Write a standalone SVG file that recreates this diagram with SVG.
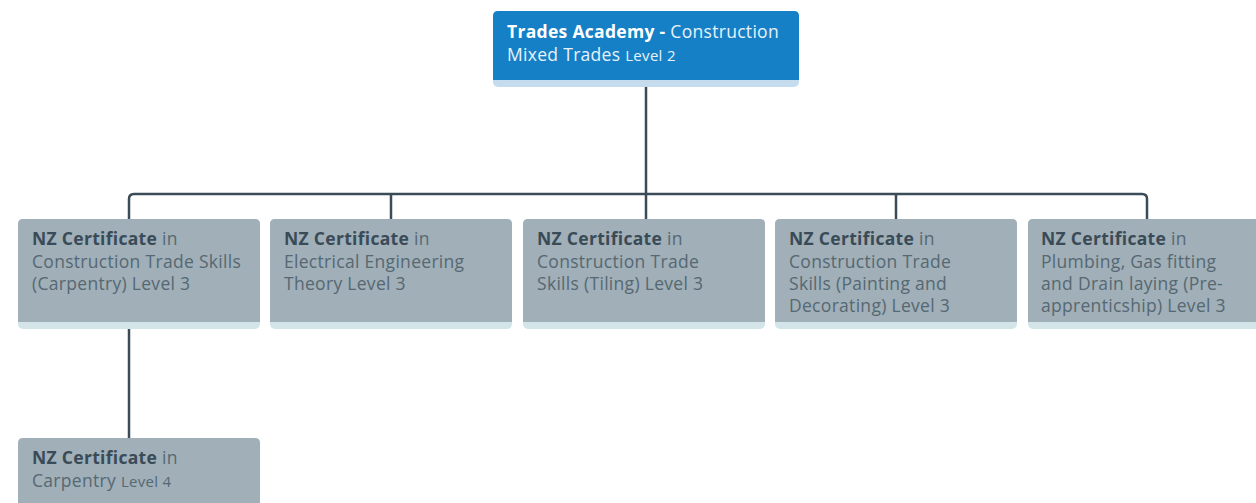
<svg xmlns="http://www.w3.org/2000/svg" width="1256" height="503" viewBox="0 0 1256 503">
<style>
.t{font-family:"Open Sans",Lato,"Liberation Sans",sans-serif;font-size:17.5px;letter-spacing:0.3px;fill:#566872}
.b{font-weight:bold;fill:#3a4b57}
.s{font-size:15px}
.tw{fill:#e8f2fa}
.tb{fill:#ffffff;font-weight:bold}
.box{fill:#a0afb8}
.strip{fill:#d3e5e8}
.con{fill:none;stroke:#3b4b57;stroke-width:2.5}
</style>
<rect width="1256" height="503" fill="#ffffff"/>
<g id="connectors">
<path class="con" d="M646 86 V194"/>
<path class="con" d="M129 219 V199 Q129 194 134 194 H1142 Q1147 194 1147 199 V219"/>
<path class="con" d="M391 194 V219 M646 194 V219 M896 194 V219"/>
<path class="con" d="M129 329 V438"/>
</g>
<g id="root">
<rect x="493" y="11" width="306" height="76" rx="5" fill="#c5dcef"/>
<path d="M498 11 H794 Q799 11 799 16 V80 H493 V16 Q493 11 498 11 Z" fill="#1580c6"/>
<text class="t tw" x="507" y="38"><tspan class="tb">Trades Academy -</tspan> Construction</text>
<text class="t tw" x="507" y="61">Mixed Trades <tspan class="s">Level 2</tspan></text>
</g>
<g id="n1">
<rect x="18" y="219" width="242" height="110" rx="5" class="strip"/>
<path d="M23 219 H255 Q260 219 260 224 V322 H18 V224 Q18 219 23 219 Z" class="box"/>
<text class="t" x="32" y="245"><tspan class="b">NZ Certificate</tspan> in</text>
<text class="t" x="32" y="268">Construction Trade Skills</text>
<text class="t" x="32" y="290">(Carpentry) Level 3</text>
</g>
<g id="n2">
<rect x="270" y="219" width="242" height="110" rx="5" class="strip"/>
<path d="M275 219 H507 Q512 219 512 224 V322 H270 V224 Q270 219 275 219 Z" class="box"/>
<text class="t" x="284" y="245"><tspan class="b">NZ Certificate</tspan> in</text>
<text class="t" x="284" y="268">Electrical Engineering</text>
<text class="t" x="284" y="290">Theory Level 3</text>
</g>
<g id="n3">
<rect x="523" y="219" width="242" height="110" rx="5" class="strip"/>
<path d="M528 219 H760 Q765 219 765 224 V322 H523 V224 Q523 219 528 219 Z" class="box"/>
<text class="t" x="537" y="245"><tspan class="b">NZ Certificate</tspan> in</text>
<text class="t" x="537" y="268">Construction Trade</text>
<text class="t" x="537" y="290">Skills (Tiling) Level 3</text>
</g>
<g id="n4">
<rect x="775" y="219" width="242" height="110" rx="5" class="strip"/>
<path d="M780 219 H1012 Q1017 219 1017 224 V322 H775 V224 Q775 219 780 219 Z" class="box"/>
<text class="t" x="789" y="245"><tspan class="b">NZ Certificate</tspan> in</text>
<text class="t" x="789" y="268">Construction Trade</text>
<text class="t" x="789" y="290">Skills (Painting and</text>
<text class="t" x="789" y="312">Decorating) Level 3</text>
</g>
<g id="n5">
<rect x="1028" y="219" width="242" height="110" rx="5" class="strip"/>
<path d="M1033 219 H1265 Q1270 219 1270 224 V322 H1028 V224 Q1028 219 1033 219 Z" class="box"/>
<text class="t" x="1041" y="245"><tspan class="b">NZ Certificate</tspan> in</text>
<text class="t" x="1041" y="268">Plumbing, Gas fitting</text>
<text class="t" x="1041" y="290">and Drain laying (Pre-</text>
<text class="t" x="1041" y="312">apprenticship) Level 3</text>
</g>
<g id="n6">
<path d="M23 438 H255 Q260 438 260 443 V520 H18 V443 Q18 438 23 438 Z" class="box"/>
<text class="t" x="32" y="464"><tspan class="b">NZ Certificate</tspan> in</text>
<text class="t" x="32" y="487">Carpentry <tspan class="s">Level 4</tspan></text>
</g>
</svg>
